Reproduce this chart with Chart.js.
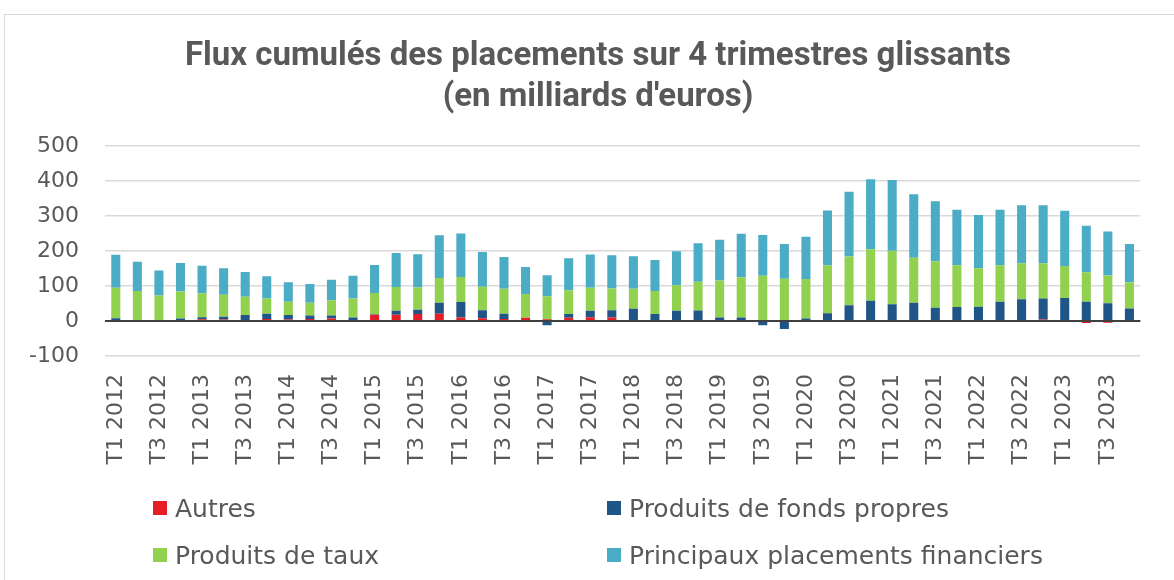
<!DOCTYPE html>
<html>
<head>
<meta charset="utf-8">
<script src="https://cdn.jsdelivr.net/npm/chart.js@4"></script>
<style>
    body { margin: 0; background: #fff; overflow: hidden; }
    #wrap { position: relative; width: 1174px; height: 580px; overflow: hidden; }
    #cadre { position: absolute; left: 4px; top: 14px; width: 1220px; height: 620px; border: 1px solid #d9d9d9; }
    #graph { position: absolute; left: 0; top: 0; }
    #legende { position: absolute; left: 0; top: 0; font-family: 'DejaVu Sans', sans-serif; font-size: 25px; color: #595959; }
    #legende .item { position: absolute; white-space: nowrap; display: flex; align-items: center; height: 30px; }
    #legende .carre { width: 14px; height: 14px; margin-right: 8px; }
</style>
</head>
<body>
<div id="wrap">
    <div id="cadre"></div>
    <canvas id="graph" width="1174" height="580"></canvas>
    <div id="legende"></div>
</div>
<script>
var trimestres = [];
for (var an = 2012; an <= 2023; an++) {
    for (var t = 1; t <= 4; t++) trimestres.push('T' + t + ' ' + an);
}

var autres = [0, 0, 0, 3, 5, 4, 3, 6, 4, 6, 7, 2,
    18, 18, 20, 21, 10, 8, 6, 9, 5, 9, 11, 10,
    3, 1, -2, 0, 3, 1, 3, 1, 0, -1, 0, -2,
    0, 3, 0, 0, 0, 0, 2, 4, 0, -6, -5, -2];

var fondsPropres = [8, 1, 0, 4, 6, 8, 14, 15, 13, 10, 9, 8,
    1, 11, 12, 31, 44, 23, 15, -3, -12, 11, 18, 21,
    32, 19, 29, 30, 7, 9, -12, -23, 7, 22, 45, 58,
    48, 49, 38, 40, 41, 55, 60, 60, 66, 55, 51, 36];

var produitsTaux = [87, 85, 73, 77, 68, 63, 52, 43, 38, 36, 43, 54,
    61, 68, 64, 71, 72, 67, 71, 68, 66, 68, 66, 62,
    57, 66, 73, 82, 106, 115, 126, 120, 113, 137, 139, 147,
    153, 129, 133, 119, 110, 104, 103, 101, 91, 84, 79, 75];

var principaux = [94, 83, 71, 82, 79, 76, 71, 64, 56, 54, 59, 65,
    80, 97, 95, 122, 124, 99, 91, 77, 60, 91, 95, 95,
    93, 88, 97, 110, 116, 124, 117, 99, 121, 157, 185, 200,
    202, 181, 171, 159, 152, 159, 166, 166, 158, 133, 126, 109];

var titre = ['Flux cumulés des placements sur 4 trimestres glissants', "(en milliards d'euros)"];

var gris = '#595959';
var police = "'DejaVu Sans', sans-serif";

// titre centré sur le cadre du graphique (pas sur la zone de tracé)
var titreCadre = {
    id: 'titreCadre',
    afterDraw: function (chart) {
        var ctx = chart.ctx;
        ctx.save();
        ctx.fillStyle = gris;
        ctx.font = 'bold 33px Roboto';
        ctx.textAlign = 'center';
        ctx.textBaseline = 'middle';
        ctx.fillText(titre[0], 598, 57);
        ctx.fillText(titre[1], 598, 98);
        ctx.restore();
    }
};

// ligne du zéro par-dessus les barres
var ligneZero = {
    id: 'ligneZero',
    afterDatasetsDraw: function (chart) {
        var y = chart.scales.y.getPixelForValue(0);
        var ctx = chart.ctx;
        ctx.save();
        ctx.strokeStyle = '#404040';
        ctx.lineWidth = 2;
        ctx.beginPath();
        ctx.moveTo(chart.chartArea.left, y);
        ctx.lineTo(chart.chartArea.right, y);
        ctx.stroke();
        ctx.restore();
    }
};

function serie(label, data, couleur) {
    return {
        label: label,
        data: data,
        backgroundColor: couleur,
        borderWidth: 0,
        categoryPercentage: 1,
        barPercentage: 0.42
    };
}

var chart = new Chart(document.getElementById('graph').getContext('2d'), {
    type: 'bar',
    data: {
        labels: trimestres,
        datasets: [
            serie('Autres', autres, '#e81e26'),
            serie('Produits de fonds propres', fondsPropres, '#1f5587'),
            serie('Produits de taux', produitsTaux, '#92d050'),
            serie('Principaux placements financiers', principaux, '#4bacc6')
        ]
    },
    options: {
        responsive: false,
        animation: false,
        layout: { padding: { left: 0, right: 17, top: 146, bottom: 94 } },
        plugins: {
            legend: { display: false },
            tooltip: { enabled: false },
            title: { display: false }
        },
        scales: {
            x: {
                stacked: true,
                grid: { display: false, drawTicks: false },
                border: { display: false },
                ticks: {
                    autoSkip: false,
                    minRotation: 90,
                    maxRotation: 90,
                    padding: 18,
                    color: gris,
                    font: { family: police, size: 22 },
                    callback: function (val, i) {
                        return i % 2 === 0 ? this.getLabelForValue(val) : '';
                    }
                },
                afterFit: function (scale) { scale.height = 130; }
            },
            y: {
                stacked: true,
                min: -100,
                max: 500,
                border: { display: false },
                grid: {
                    drawTicks: false,
                    color: function (c) { return c.tick.value === 0 ? '#404040' : '#d9d9d9'; },
                    lineWidth: function (c) { return c.tick.value === 0 ? 2 : 1.5; }
                },
                ticks: {
                    stepSize: 100,
                    padding: 26,
                    color: gris,
                    font: { family: police, size: 22 }
                },
                afterFit: function (scale) { scale.width = 105; }
            }
        }
    },
    plugins: [ligneZero, titreCadre]
});

// légende sur deux colonnes, construite à partir des séries
var positions = [[153, 493], [607, 493], [153, 540], [607, 540]];
var legende = document.getElementById('legende');
chart.data.datasets.forEach(function (ds, i) {
    var item = document.createElement('div');
    item.className = 'item';
    item.style.left = positions[i][0] + 'px';
    item.style.top = positions[i][1] + 'px';
    var carre = document.createElement('span');
    carre.className = 'carre';
    carre.style.background = ds.backgroundColor;
    var txt = document.createElement('span');
    txt.textContent = ds.label;
    item.appendChild(carre);
    item.appendChild(txt);
    legende.appendChild(item);
});
</script>
</body>
</html>
